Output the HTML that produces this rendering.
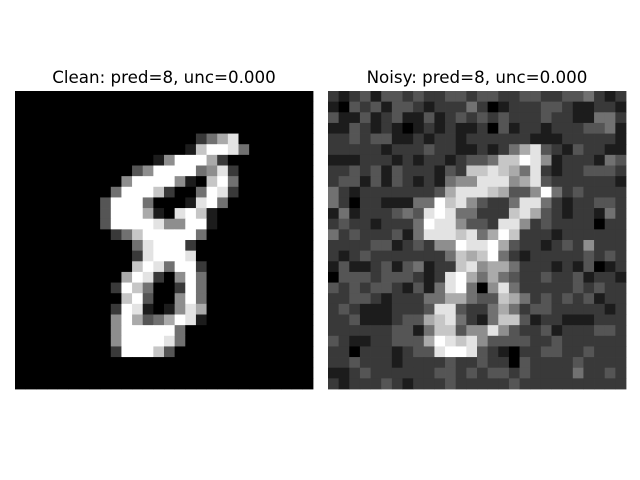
<!DOCTYPE html>
<html><head><meta charset="utf-8"><style>
html,body{margin:0;padding:0;background:#fff;width:640px;height:480px;overflow:hidden}
svg text{font-family:"DejaVu Sans","Liberation Sans",sans-serif;font-size:16.7px;fill:#000}
</style></head><body>
<svg id="fig" width="640" height="480" xmlns="http://www.w3.org/2000/svg">
<rect width="640" height="480" fill="#fff"/>
<text x="164" y="83" text-anchor="middle">Clean: pred=8, unc=0.000</text>
<text x="477" y="83" text-anchor="middle">Noisy: pred=8, unc=0.000</text>
<g id="clean"></g>
<g id="noisy"></g>
</svg>
<script>
const cleanRows = [
"0000000000000000000000000000",
"0000000000000000000000000000",
"0000000000000000000000000000",
"0000000000000000000000000000",
"0000000000000000024680000000",
"0000000000000000179984000000",
"0000000000000159996200000000",
"0000000000035999945820000000",
"0000000000599995107940000000",
"0000000004999720049820000000",
"0000000039994000189400000000",
"0000000039996108971000000000",
"0000000039999855991000000000",
"0000000002479999940000000000",
"0000000000048999200000000000",
"0000000000028999800000000000",
"0000000000079849920000000000",
"0000000000698205940000000000",
"0000000002974002940000000000",
"0000000000793005940000000000",
"0000000002981015860000000000",
"0000000005963469810000000000",
"0000000005999994000000000000",
"0000000005999984000000000000",
"0000000002999730000000000000",
"0000000000000000000000000000",
"0000000000000000000000000000",
"0000000000000000000000000000"
];
const noisyRows = [
"2123133232233233223322334212",
"1032313321222420122233211221",
"3113123113123232322232211442",
"1132121012121120312212223341",
"2232331121221222222111222221",
"2222212223221121246832132211",
"1112221212212334779851222143",
"2232313222132778764821223332",
"2331313212145588856832222221",
"4212222222368887633594232222",
"4202211144978532248842122332",
"1412223438984422278632122142",
"2322122249885332885232222022",
"4232223148887846972221222222",
"2222331232559889632212325222",
"2123222222247679421222223232",
"1311231341227856642221213012",
"0333233321289646432232231221",
"3232332131489405842222232322",
"2233212224466433764232323122",
"2321112223883224642332222212",
"2231112336784214773122111222",
"2222223314773558532231222332",
"3211223336987853333223222222",
"2202221233899832102233223222",
"2232221222232232203222232222",
"1123222222332323323222242232",
"2122232122232222232222222222"
];
const N = 28, size = 298, cell = size / N;
function xPos(x0, c){ return x0 + c * cell; }
function yPos(r){ return 91 + r * cell; }
function gray(d){ const v = Math.round(parseInt(d,10) / 9 * 255); return `rgb(${v},${v},${v})`; }
function draw(id, rows, x0, nm){
  const g = document.getElementById(id);
  const NS = "http://www.w3.org/2000/svg";
  rows.forEach((row, r) => {
    for (let c = 0; c < N; c++) {
      const el = document.createElementNS(NS, "rect");
      
      
      const x1 = xPos(x0, c), y1 = yPos(r);
      el.setAttribute("x", x1.toFixed(2));
      el.setAttribute("y", y1.toFixed(2));
      el.setAttribute("width", (cell + 0.4).toFixed(2));
      el.setAttribute("height", (cell + 0.4).toFixed(2));
      el.setAttribute("fill", gray(row[c]));
      g.appendChild(el);
    }
  });
}
draw("clean", cleanRows, 15, "clean");
draw("noisy", noisyRows, 328, "noisy");
</script>
</body></html>
